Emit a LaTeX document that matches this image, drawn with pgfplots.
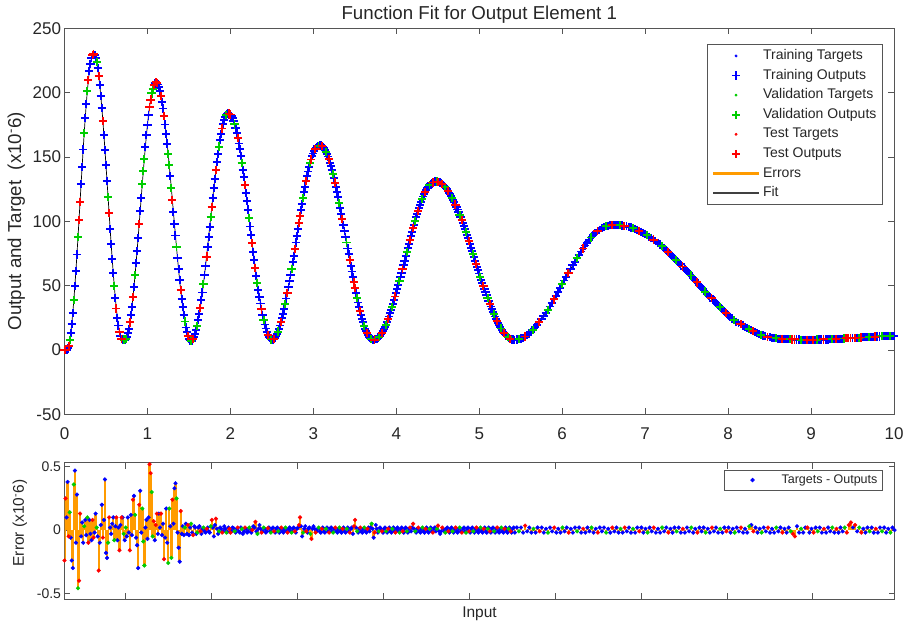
\documentclass[border=0pt]{standalone}
\usepackage{fontspec}
\setmainfont{Liberation Sans}
\usepackage{pgfplots}
\usepackage{pgfplotstable}
\pgfplotsset{compat=1.18}
\pgfplotsset{/pgf/number format/assume math mode=true}

\definecolor{txt}{RGB}{38,38,38}
\definecolor{axgray}{RGB}{85,85,85}
\definecolor{trn}{RGB}{0,0,255}
\definecolor{vld}{RGB}{0,205,0}
\definecolor{tst}{RGB}{255,0,0}
\definecolor{errc}{RGB}{255,155,0}

% x: input, y: target/output, e: target - output, c: 0 train, 1 validation, 2 test
\pgfplotstableread{
x y e c
0 0.0 -0.24 2
0.0125 0.1 0.25 2
0.025 0.3 0.10 0
0.0375 1.2 0.38 0
0.05 3.3 -0.05 2
0.0625 7.5 0.14 1
0.075 13.2 -0.06 0
0.0875 20.4 -0.24 0
0.1 28.9 -0.30 0
0.1125 38.7 0.36 1
0.125 49.7 0.47 0
0.1375 61.5 -0.10 0
0.15 74.2 0.28 0
0.1625 87.5 -0.46 1
0.175 101.1 -0.40 2
0.1875 115.0 0.13 2
0.2 128.9 -0.05 0
0.2125 142.5 0.06 0
0.225 155.8 -0.10 0
0.2375 168.5 0.03 1
0.25 180.3 0.08 0
0.2625 191.3 -0.04 0
0.275 201.1 0.10 1
0.2875 209.6 -0.10 2
0.3 216.8 0.08 0
0.3125 222.5 -0.03 0
0.325 226.7 -0.08 0
0.3375 229.2 0.08 2
0.35 230.0 -0.06 2
0.3625 229.3 -0.02 0
0.375 227.2 0.13 0
0.3875 223.8 0.02 1
0.4 219.0 -0.05 0
0.4125 213.0 -0.32 2
0.425 205.8 -0.10 0
0.4375 197.5 0.04 0
0.45 188.2 0.20 0
0.4625 178.1 -0.06 2
0.475 167.2 0.08 0
0.4875 155.7 0.40 0
0.5 143.7 -0.18 0
0.5125 131.4 -0.22 0
0.525 119.0 -0.10 1
0.5375 106.6 0.10 2
0.55 94.3 0.02 0
0.5625 82.3 -0.03 0
0.575 70.8 0.05 0
0.5875 59.9 0.10 0
0.6 49.8 -0.08 1
0.6125 40.5 0.03 0
0.625 32.2 0.10 2
0.6375 25.0 -0.08 0
0.65 19.0 0.02 0
0.6625 14.2 -0.16 2
0.675 10.8 0.04 0
0.6875 8.7 0.10 2
0.7 8.2 0.10 0
0.7125 8.1 -0.03 1
0.725 8.0 -0.08 0
0.7375 8.5 0.02 1
0.75 10.2 -0.05 0
0.7625 12.9 0.10 0
0.775 16.6 -0.02 0
0.7875 21.4 -0.16 2
0.8 27.1 0.12 0
0.8125 33.7 -0.04 0
0.825 41.1 0.24 2
0.8375 49.2 0.27 0
0.85 58.0 0.12 1
0.8625 67.3 -0.06 0
0.875 77.1 -0.12 0
0.8875 87.2 -0.30 0
0.9 97.6 0.20 2
0.9125 108.0 0.31 0
0.925 118.4 -0.02 0
0.9375 128.8 0.17 1
0.95 138.9 -0.09 1
0.9625 148.7 -0.28 1
0.975 158.0 0.02 0
0.9875 166.8 0.08 0
1.0 174.9 -0.07 0
1.0125 182.3 0.10 0
1.025 188.9 0.52 2
1.0375 194.6 0.45 2
1.05 199.4 0.30 1
1.0625 203.1 -0.05 1
1.075 205.8 0.07 2
1.0875 207.5 -0.08 0
1.1 208.0 0.04 2
1.1125 207.6 0.13 2
1.125 206.3 -0.03 0
1.1375 204.2 0.13 0
1.15 201.2 0.02 0
1.1625 197.5 0.13 2
1.175 192.9 -0.04 0
1.1875 187.7 0.05 0
1.2 181.8 -0.23 2
1.2125 175.2 -0.06 0
1.225 168.1 0.17 0
1.2375 160.4 -0.10 0
1.25 152.3 -0.26 1
1.2625 143.8 0.17 1
1.275 135.0 0.03 0
1.2875 126.0 -0.22 1
1.3 116.8 0.24 2
1.3125 107.5 0.05 0
1.325 98.2 0.33 0
1.3375 89.0 0.37 0
1.35 80.0 0.25 1
1.3625 71.2 -0.02 0
1.375 62.7 -0.14 0
1.3875 54.6 -0.25 0
1.4 46.9 0.15 2
1.4125 39.8 -0.03 0
1.425 33.2 0.03 0
1.4375 27.3 -0.04 0
1.45 22.1 0.02 1
1.4625 17.5 0.05 0
1.475 13.8 -0.03 0
1.4875 10.8 0.04 2
1.5 8.7 -0.04 0
1.5125 7.4 0.02 0
1.525 7.0 0.05 1
1.5375 7.3 -0.02 0
1.55 8.3 -0.04 2
1.5625 10.0 0.03 0
1.575 12.3 0.02 0
1.5875 15.3 -0.03 0
1.6 18.9 -0.02 1
1.6125 23.0 0.02 0
1.625 27.7 0.03 0
1.6375 32.9 -0.01 2
1.65 38.6 -0.03 0
1.6625 44.7 0.01 0
1.675 51.3 0.02 1
1.6875 58.1 -0.01 0
1.7 65.2 -0.02 0
1.7125 72.6 0.01 2
1.725 80.1 0.02 0
1.7375 87.8 -0.01 0
1.75 95.5 -0.02 0
1.7625 103.2 0.03 1
1.775 110.9 0.08 2
1.7875 118.4 0.02 0
1.8 125.8 -0.05 0
1.8125 132.9 0.04 0
1.825 139.8 0.09 2
1.8375 146.3 0.01 0
1.85 152.4 -0.03 0
1.8625 158.1 -0.01 1
1.875 163.3 0.02 0
1.8875 168.0 0.01 0
1.9 172.1 -0.02 2
1.9125 175.7 -0.01 0
1.925 178.7 0.03 0
1.9375 181.0 0.01 0
1.95 182.7 -0.02 1
1.9625 183.7 -0.015 0
1.975 184.0 0.02 0
1.9875 183.8 0.01 2
2.0 183.0 -0.02 2
2.0125 181.8 -0.01 0
2.025 180.1 0.02 0
2.0375 177.9 0.015 0
2.05 175.3 -0.01 1
2.0625 172.2 -0.02 0
2.075 168.7 0.01 0
2.0875 164.8 0.02 2
2.1 160.5 -0.01 0
2.1125 155.9 -0.02 0
2.125 150.9 0.02 0
2.1375 145.6 0.01 1
2.15 140.0 -0.03 0
2.1625 134.2 -0.01 0
2.175 128.1 0.02 2
2.1875 121.9 0.01 0
2.2 115.6 -0.02 0
2.2125 109.1 -0.01 0
2.225 102.6 0.02 1
2.2375 96.0 0.01 0
2.25 89.4 -0.02 0
2.2625 82.9 0.0 2
2.275 76.4 0.03 0
2.2875 70.1 0.02 0
2.3 63.9 0.065 2
2.3125 57.8 -0.01 0
2.325 52.0 -0.03 1
2.3375 46.4 0.01 0
2.35 41.1 0.04 0
2.3625 36.1 0.01 0
2.375 31.5 -0.02 2
2.3875 27.2 -0.01 0
2.4 23.3 0.02 1
2.4125 19.8 0.01 0
2.425 16.7 -0.02 0
2.4375 14.1 -0.01 0
2.45 11.9 0.015 2
2.4625 10.2 0.02 0
2.475 9.0 -0.01 0
2.4875 8.2 -0.02 1
2.5 8.0 0.01 0
2.5125 8.2 0.02 0
2.525 8.7 -0.01 2
2.5375 9.6 -0.02 0
2.55 10.8 0.01 0
2.5625 12.4 0.02 0
2.575 14.3 -0.01 1
2.5875 16.5 -0.02 0
2.6 19.0 0.01 0
2.6125 21.8 0.02 2
2.625 24.9 -0.01 0
2.6375 28.3 -0.02 0
2.65 32.0 0.01 0
2.6625 35.9 0.02 1
2.675 40.0 -0.01 0
2.6875 44.3 -0.02 2
2.7 48.8 0.01 0
2.7125 53.4 0.02 0
2.725 58.2 -0.01 0
2.7375 63.1 -0.02 1
2.75 68.1 0.01 0
2.7625 73.2 0.02 0
2.775 78.4 -0.01 2
2.7875 83.5 -0.02 0
2.8 88.6 0.01 0
2.8125 93.8 0.02 0
2.825 98.9 0.04 2
2.8375 103.9 0.10 2
2.85 108.8 0.03 0
2.8625 113.6 -0.05 0
2.875 118.2 -0.02 1
2.8875 122.7 0.01 0
2.9 127.0 0.03 0
2.9125 131.1 -0.01 2
2.925 135.0 -0.02 0
2.9375 138.7 0.01 0
2.95 142.1 0.02 0
2.9625 145.2 -0.03 1
2.975 148.0 -0.07 2
2.9875 150.5 0.01 0
3.0 152.7 0.03 0
3.0125 154.6 0.01 0
3.025 156.2 -0.02 2
3.0375 157.4 -0.01 0
3.05 158.3 0.01 0
3.0625 158.8 0.02 1
3.075 159.0 -0.01 0
3.0875 158.9 -0.02 0
3.1 158.4 0.01 2
3.1125 157.8 0.02 0
3.125 156.8 -0.01 0
3.1375 155.6 -0.02 0
3.15 154.1 0.01 1
3.1625 152.3 0.02 0
3.175 150.4 -0.01 0
3.1875 148.1 -0.02 2
3.2 145.6 0.01 0
3.2125 142.9 0.02 0
3.225 140.0 -0.01 0
3.2375 136.9 -0.02 1
3.25 133.6 0.01 0
3.2625 130.1 0.02 2
3.275 126.4 -0.01 0
3.2875 122.6 -0.02 0
3.3 118.6 0.01 0
3.3125 114.5 0.02 1
3.325 110.3 -0.01 0
3.3375 106.0 -0.02 0
3.35 101.6 0.01 2
3.3625 97.1 0.02 0
3.375 92.6 -0.01 0
3.3875 88.1 -0.02 0
3.4 83.5 0.01 1
3.4125 78.9 0.02 0
3.425 74.4 -0.01 0
3.4375 69.9 -0.02 2
3.45 65.4 0.01 0
3.4625 61.0 0.02 0
3.475 56.7 -0.03 0
3.4875 52.5 0.03 2
3.5 48.4 0.08 2
3.5125 44.4 0.02 0
3.525 40.6 -0.01 1
3.5375 36.9 -0.02 0
3.55 33.4 0.01 0
3.5625 30.1 0.02 2
3.575 27.0 -0.01 0
3.5875 24.1 -0.02 0
3.6 21.4 0.01 0
3.6125 18.9 0.02 1
3.625 16.6 -0.01 0
3.6375 14.7 -0.02 0
3.65 12.9 0.01 2
3.6625 11.4 0.02 0
3.675 10.2 -0.01 0
3.6875 9.2 0.02 0
3.7 8.6 0.05 1
3.7125 8.1 0.01 0
3.725 8.0 -0.06 0
3.7375 8.1 -0.02 2
3.75 8.3 0.04 0
3.7625 8.8 0.01 0
3.775 9.3 -0.02 0
3.7875 10.1 -0.01 1
3.8 11.0 0.02 0
3.8125 12.1 0.01 0
3.825 13.3 -0.01 2
3.8375 14.7 -0.02 0
3.85 16.2 0.01 0
3.8625 17.9 0.02 0
3.875 19.7 -0.01 1
3.8875 21.7 -0.02 0
3.9 23.8 0.01 2
3.9125 26.0 0.02 0
3.925 28.4 -0.01 0
3.9375 30.8 -0.02 0
3.95 33.4 0.01 1
3.9625 36.0 0.02 0
3.975 38.8 -0.01 0
3.9875 41.6 -0.02 2
4.0 44.5 0.01 0
4.0125 47.5 0.02 0
4.025 50.5 -0.01 0
4.0375 53.6 -0.02 1
4.05 56.7 0.01 0
4.0625 59.9 0.02 0
4.075 63.1 -0.01 2
4.0875 66.3 -0.02 0
4.1 69.5 0.01 0
4.1125 72.7 0.02 0
4.125 75.9 -0.01 1
4.1375 79.1 -0.02 0
4.15 82.3 0.01 0
4.1625 85.4 0.02 2
4.175 88.5 -0.01 0
4.1875 91.5 0.02 0
4.2 94.5 0.05 2
4.2125 97.4 0.01 0
4.225 100.3 -0.01 1
4.2375 103.0 -0.02 0
4.25 105.6 0.01 0
4.2625 108.2 0.02 2
4.275 110.6 -0.01 0
4.2875 113.0 -0.02 0
4.3 115.2 0.01 0
4.3125 117.3 0.02 1
4.325 119.3 -0.01 0
4.3375 121.1 -0.02 0
4.35 122.8 0.01 2
4.3625 124.3 0.02 0
4.375 125.7 -0.01 0
4.3875 126.9 -0.02 0
4.4 128.0 0.01 1
4.4125 128.9 0.02 0
4.425 129.7 -0.01 0
4.4375 130.2 -0.02 2
4.45 130.7 0.01 0
4.4625 130.9 0.02 0
4.475 131.0 -0.01 0
4.4875 130.9 0.01 1
4.5 130.8 0.035 2
4.5125 130.5 -0.01 0
4.525 130.2 -0.03 0
4.5375 129.7 -0.01 0
4.55 129.1 0.02 2
4.5625 128.4 0.01 0
4.575 127.7 -0.01 0
4.5875 126.8 -0.02 1
4.6 125.8 0.01 0
4.6125 124.8 0.02 0
4.625 123.6 -0.01 2
4.6375 122.3 -0.02 0
4.65 121.0 0.01 0
4.6625 119.5 0.02 0
4.675 118.0 -0.01 1
4.6875 116.4 -0.02 0
4.7 114.8 0.01 0
4.7125 113.0 0.02 2
4.725 111.1 -0.01 0
4.7375 109.2 -0.02 0
4.75 107.3 0.01 0
4.7625 105.2 0.02 1
4.775 103.1 -0.01 0
4.7875 101.0 -0.02 2
4.8 98.8 0.01 0
4.8125 96.5 0.02 0
4.825 94.2 -0.01 0
4.8375 91.9 -0.02 1
4.85 89.5 0.01 0
4.8625 87.0 0.02 0
4.875 84.6 -0.01 2
4.8875 82.1 -0.02 0
4.9 79.6 0.01 0
4.9125 77.1 0.02 0
4.925 74.6 -0.01 1
4.9375 72.0 -0.02 0
4.95 69.5 0.01 0
4.9625 67.0 0.02 2
4.975 64.4 -0.01 0
4.9875 61.9 -0.02 0
5.0 59.4 0.01 0
5.0125 56.9 0.02 1
5.025 54.4 -0.01 0
5.0375 52.0 -0.02 0
5.05 49.5 0.01 2
5.0625 47.1 0.02 0
5.075 44.8 -0.01 0
5.0875 42.5 -0.02 0
5.1 40.2 0.01 1
5.1125 38.0 0.02 0
5.125 35.9 -0.01 2
5.1375 33.8 -0.02 0
5.15 31.7 0.01 0
5.1625 29.8 0.02 0
5.175 27.9 -0.01 1
5.1875 26.0 -0.02 0
5.2 24.2 0.01 0
5.2125 22.6 0.02 2
5.225 21.0 -0.01 0
5.2375 19.5 -0.02 0
5.25 18.0 0.01 0
5.2625 16.7 0.02 1
5.275 15.4 -0.01 0
5.2875 14.2 -0.02 0
5.3 13.2 0.01 2
5.3125 12.2 0.02 0
5.325 11.3 -0.01 0
5.3375 10.6 -0.02 0
5.35 9.9 0.01 1
5.3625 9.3 0.02 0
5.375 8.8 -0.01 2
5.3875 8.5 -0.02 0
5.4 8.2 0.01 0
5.4125 8.1 0.02 0
5.425 8.0 -0.02 0
5.45 8.1 0.02 0
5.475 8.4 -0.01 1
5.5 8.9 0.02 0
5.525 9.6 -0.02 0
5.55 10.5 0.035 2
5.575 11.5 -0.01 0
5.6 12.8 0.02 0
5.625 14.2 -0.02 0
5.65 15.8 0.01 1
5.675 17.6 -0.02 0
5.7 19.5 0.02 0
5.725 21.6 -0.01 2
5.75 23.8 0.02 0
5.775 26.1 -0.02 0
5.8 28.6 0.01 0
5.825 31.1 -0.02 1
5.85 33.8 0.02 0
5.875 36.5 -0.01 0
5.9 39.3 0.02 2
5.925 42.2 -0.02 0
5.95 45.1 0.01 0
5.975 48.1 -0.02 0
6.0 51.0 0.02 1
6.025 54.0 -0.01 0
6.05 57.0 0.02 0
6.075 59.9 -0.02 2
6.1 62.8 0.01 0
6.125 65.7 -0.02 0
6.15 68.5 0.02 0
6.175 71.2 -0.01 1
6.2 73.9 0.02 0
6.225 76.5 -0.02 0
6.25 78.9 0.01 2
6.275 81.2 -0.02 0
6.3 83.4 0.02 0
6.325 85.5 -0.01 0
6.35 87.4 0.02 1
6.375 89.2 -0.02 0
6.4 90.8 0.01 0
6.425 92.2 -0.02 2
6.45 93.5 0.02 0
6.475 94.5 -0.01 0
6.5 95.4 0.02 0
6.525 96.1 -0.02 1
6.55 96.6 0.01 0
6.575 96.9 -0.02 0
6.6 97.0 0.02 2
6.625 97.0 -0.01 0
6.65 97.0 0.02 0
6.675 97.0 -0.02 0
6.7 96.9 0.01 1
6.725 96.7 -0.02 0
6.75 96.4 0.02 2
6.775 96.1 -0.01 0
6.8 95.7 0.02 0
6.825 95.2 -0.02 0
6.85 94.7 0.01 1
6.875 94.1 -0.02 0
6.9 93.4 0.02 0
6.925 92.7 -0.01 2
6.95 91.9 0.02 0
6.975 91.0 -0.02 0
7.0 90.1 0.01 0
7.025 89.1 -0.02 1
7.05 88.1 0.02 0
7.075 87.0 -0.01 0
7.1 85.8 0.02 2
7.125 84.6 -0.02 0
7.15 83.3 0.01 0
7.175 82.0 -0.02 0
7.2 80.6 0.02 1
7.225 79.2 -0.01 0
7.25 77.8 0.02 0
7.275 76.3 -0.02 2
7.3 74.8 0.01 0
7.325 73.2 -0.02 0
7.35 71.6 0.02 0
7.375 69.9 -0.01 1
7.4 68.3 0.02 0
7.425 66.6 -0.02 0
7.45 64.9 0.01 2
7.475 63.2 -0.02 0
7.5 61.4 0.02 0
7.525 59.6 -0.01 0
7.55 57.9 0.02 1
7.575 56.1 -0.02 0
7.6 54.3 0.01 0
7.625 52.5 -0.02 2
7.65 50.7 0.02 0
7.675 48.9 -0.01 0
7.7 47.1 0.02 0
7.725 45.4 -0.02 1
7.75 43.6 0.01 0
7.775 41.8 -0.02 0
7.8 40.1 0.02 2
7.825 38.4 -0.01 0
7.85 36.7 0.02 0
7.875 35.1 -0.02 0
7.9 33.4 0.01 1
7.925 31.8 -0.02 0
7.95 30.3 0.02 0
7.975 28.7 -0.01 2
8.0 27.2 0.02 0
8.025 25.8 -0.02 0
8.05 24.4 0.01 0
8.075 23.0 -0.02 1
8.1 22.0 0.02 0
8.125 21.0 -0.01 0
8.15 20.0 0.02 2
8.175 19.0 -0.02 0
8.2 18.0 0.01 0
8.225 17.1 -0.02 0
8.25 16.2 0.03 1
8.275 15.4 0.04 0
8.3 14.6 -0.01 2
8.325 13.8 0.02 0
8.35 13.1 -0.02 0
8.375 12.4 0.01 0
8.4 11.8 -0.02 1
8.425 11.2 0.02 0
8.45 10.7 -0.01 0
8.475 10.2 0.02 2
8.5 9.8 -0.02 0
8.525 9.5 0.01 0
8.55 9.2 -0.02 0
8.575 9.0 0.02 1
8.6 8.8 -0.01 0
8.625 8.7 0.02 0
8.65 8.6 -0.02 2
8.675 8.5 0.01 0
8.7 8.4 -0.02 0
8.725 8.3 0.02 0
8.75 8.3 -0.01 1
8.775 8.2 -0.03 2
8.8 8.2 -0.05 2
8.825 8.1 0.03 0
8.85 8.1 -0.02 0
8.875 8.0 0.01 1
8.9 8.0 -0.02 0
8.925 8.0 0.02 0
8.95 8.0 0.02 2
8.975 8.0 -0.02 0
9.0 8.0 0.01 0
9.025 8.0 -0.02 2
9.05 8.0 0.02 0
9.075 8.1 -0.01 1
9.1 8.1 0.02 0
9.125 8.1 -0.02 0
9.15 8.2 0.01 2
9.175 8.2 -0.02 0
9.2 8.2 0.02 0
9.225 8.3 -0.01 0
9.25 8.4 0.02 1
9.275 8.4 -0.02 0
9.3 8.5 0.01 2
9.325 8.6 -0.02 0
9.35 8.7 0.02 0
9.375 8.8 -0.01 0
9.4 8.9 0.02 1
9.425 9.0 -0.02 2
9.45 9.1 0.04 2
9.475 9.2 0.06 2
9.5 9.3 0.02 0
9.525 9.4 0.04 2
9.55 9.5 -0.01 0
9.575 9.6 0.02 1
9.6 9.7 -0.02 2
9.625 9.8 0.01 0
9.65 9.9 -0.02 0
9.675 10.0 0.02 0
9.7 10.1 -0.01 1
9.725 10.2 0.02 0
9.75 10.3 -0.02 0
9.775 10.4 0.01 2
9.8 10.5 -0.02 0
9.825 10.5 0.02 0
9.85 10.6 -0.01 1
9.875 10.7 0.02 0
9.9 10.8 -0.02 0
9.925 10.8 0.01 0
9.95 10.9 -0.02 1
9.975 10.9 0.02 0
10.0 11.0 0.00 0
}\fitdata

\pgfplotsset{
  frame/.style={
    scale only axis,
    axis line style={axgray, line width=0.6pt},
    tick style={axgray, line width=0.6pt},
    major tick length=6pt,
    xmin=0, xmax=10,
    legend cell align=left,
    legend image code/.code={%
      \pgfpathrectangle{\pgfpoint{0pt}{-1pt}}{\pgfpoint{46pt}{2pt}}%
      \pgfusepath{use as bounding box}%
      \draw[mark repeat=2,mark phase=2,##1] plot coordinates {(0pt,0pt) (23pt,0pt) (46pt,0pt)};},
  },
  cls/.style={restrict expr to domain={\thisrow{c}}{#1:#1}},
  outp/.style={only marks, mark=+, mark size=4.1pt, line width=1.9pt},
  targ/.style={only marks, mark=*, mark size=1.1pt},
}

\begin{document}
\begin{tikzpicture}
\useasboundingbox (0pt,0pt) rectangle (910pt,-625pt);

% fitted function with targets and outputs
\begin{axis}[frame,
  at={(64.5pt,-414.3pt)}, anchor=south west,
  width=829.5pt, height=386pt,
  ymin=-50, ymax=250,
  xtick={0,1,...,10}, ytick={-50,0,...,250},
  tick label style={font=\fontsize{17}{20}\selectfont, text=txt},
  xticklabel style={yshift=-10pt},
  title={Function Fit for Output Element 1},
  title style={font=\fontsize{18.7}{22}\selectfont, text=txt, at={(0.5,1.024)}, anchor=base, yshift=-6pt},
  ylabel={Output and Target\ \ (x10\textsuperscript{-}6)},
  ylabel style={font=\fontsize{18.7}{22}\selectfont, text=txt, at={(axis description cs:-0.0524,0.5)}, anchor=base},
  legend style={at={(0.9864,0.959)}, anchor=north east,
    draw=axgray, line width=0.6pt, fill=white,
    font=\fontsize{14}{16}\selectfont, text=txt,
    nodes={inner sep=0pt, text height=10.5pt, text depth=3.5pt},
    inner xsep=6pt, inner ysep=4.5pt, row sep=5.6pt,
    /tikz/every odd column/.append style={column sep=4pt}},
]
\addplot[black, line width=0.7pt, forget plot] table[x=x,y=y]{\fitdata};
\addplot[trn, targ, cls=0] table[x=x,y=y]{\fitdata};
\addlegendentry{Training Targets}
\addplot[trn, outp, cls=0] table[x=x,y=y]{\fitdata};
\addlegendentry{Training Outputs}
\addplot[vld, targ, cls=1] table[x=x,y=y]{\fitdata};
\addlegendentry{Validation Targets}
\addplot[vld, outp, cls=1] table[x=x,y=y]{\fitdata};
\addlegendentry{Validation Outputs}
\addplot[tst, targ, cls=2] table[x=x,y=y]{\fitdata};
\addlegendentry{Test Targets}
\addplot[tst, outp, cls=2] table[x=x,y=y]{\fitdata};
\addlegendentry{Test Outputs}
\addlegendimage{errc, line width=2.6pt}
\addlegendentry{Errors}
\addlegendimage{black!75, line width=1.7pt}
\addlegendentry{Fit}
\end{axis}

% errors between targets and outputs
\begin{axis}[frame,
  at={(64.5pt,-599.3pt)}, anchor=south west,
  width=830pt, height=136.6pt,
  ymin=-0.547, ymax=0.532,
  xtick={0.738,1.773,2.807,3.842,4.876,5.911,6.945,7.980,9.015},
  xticklabels={}, ytick={-0.5,0,0.5},
  tick label style={font=\fontsize{14}{17}\selectfont, text=txt},
  xlabel={Input},
  xlabel style={font=\fontsize{15.5}{18}\selectfont, text=txt, at={(axis description cs:0.5,-0.133)}, anchor=base},
  ylabel={Error (x10\textsuperscript{-}6)},
  ylabel style={font=\fontsize{15.5}{18}\selectfont, text=txt, at={(axis description cs:-0.0488,0.559)}, anchor=base},
  legend style={at={(0.9858,0.9466)}, anchor=north east,
    draw=axgray, line width=0.6pt, fill=white,
    font=\fontsize{12.5}{15}\selectfont, text=txt,
    nodes={inner sep=0pt, text height=9.5pt, text depth=3pt},
    inner xsep=5pt, inner ysep=3.5pt,
    /tikz/every odd column/.append style={column sep=6pt}},
]
\addplot[errc, ycomb, line width=2.4pt, forget plot] table[x=x,y=e]{\fitdata};
\addplot[trn, only marks, mark=*, mark size=1.9pt, cls=0] table[x=x,y=e]{\fitdata};
\addlegendentry{Targets - Outputs}
\addplot[vld, only marks, mark=*, mark size=1.9pt, cls=1, forget plot] table[x=x,y=e]{\fitdata};
\addplot[tst, only marks, mark=*, mark size=1.9pt, cls=2, forget plot] table[x=x,y=e]{\fitdata};
\end{axis}
\end{tikzpicture}
\end{document}
